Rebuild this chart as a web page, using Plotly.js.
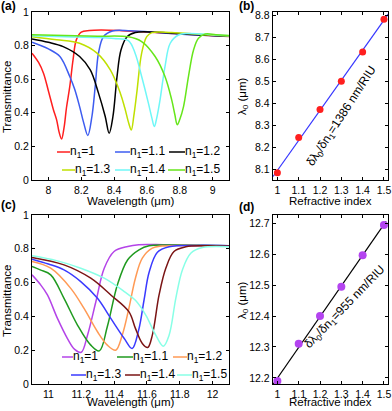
<!DOCTYPE html>
<html>
<head>
<meta charset="utf-8">
<script src="https://cdn.plot.ly/plotly-3.0.1.min.js"></script>
<style>html,body{margin:0;padding:0;background:#fff;}#chart{width:392px;height:411px;}</style>
</head>
<body>
<div id="chart"></div>
<script>
// ---------- data: panel (a) transmittance spectra ----------
const legendNames = ['n<sub>1</sub>=1','n<sub>1</sub>=1.1','n<sub>1</sub>=1.2','n<sub>1</sub>=1.3','n<sub>1</sub>=1.4','n<sub>1</sub>=1.5'];

const a1x = [7.90,7.94,7.97,8.00,8.03,8.05,8.065,8.08,8.095,8.11,8.13,8.15,8.17,8.20,8.25,8.32,8.45,8.60,8.80,9.00,9.10];
const a1y = [0.755,0.70,0.636,0.53,0.42,0.358,0.285,0.244,0.31,0.43,0.556,0.715,0.834,0.88,0.89,0.893,0.889,0.881,0.869,0.859,0.854];
const a2x = [7.90,8.00,8.07,8.13,8.16,8.19,8.215,8.24,8.265,8.285,8.305,8.335,8.39,8.50,8.70,8.90,9.10];
const a2y = [0.82,0.78,0.735,0.616,0.54,0.437,0.34,0.265,0.378,0.556,0.755,0.853,0.887,0.888,0.875,0.863,0.855];
const a3x = [7.90,8.00,8.09,8.19,8.255,8.305,8.346,8.37,8.393,8.418,8.442,8.479,8.53,8.65,8.85,9.10];
const a3y = [0.84,0.82,0.794,0.735,0.655,0.517,0.378,0.279,0.378,0.616,0.774,0.853,0.878,0.88,0.868,0.855];
const a4x = [7.90,8.05,8.19,8.296,8.377,8.438,8.465,8.489,8.505,8.52,8.538,8.568,8.599,8.63,8.75,8.95,9.10];
const a4y = [0.853,0.835,0.814,0.755,0.655,0.517,0.43,0.339,0.297,0.38,0.517,0.755,0.853,0.877,0.878,0.865,0.857];
const a5x = [7.90,8.10,8.30,8.40,8.487,8.528,8.568,8.609,8.63,8.645,8.66,8.68,8.71,8.742,8.792,8.85,9.00,9.10];
const a5y = [0.858,0.853,0.848,0.842,0.83,0.755,0.616,0.458,0.37,0.318,0.37,0.477,0.675,0.814,0.863,0.872,0.865,0.858];
const a6x = [7.90,8.10,8.30,8.487,8.568,8.65,8.71,8.751,8.77,8.785,8.80,8.823,8.853,8.884,8.914,8.955,9.02,9.10];
const a6y = [0.865,0.86,0.856,0.852,0.824,0.735,0.616,0.477,0.39,0.329,0.36,0.437,0.616,0.774,0.844,0.869,0.865,0.86];

// ---------- data: panel (b) resonance vs index ----------
const nIndex = [1,1.1,1.2,1.3,1.4,1.5];
const lambdaB = [8.083,8.244,8.371,8.50,8.633,8.782];
const fitRangeB = [0.98,1.52];
const sensB = '1386 nm/RIU';

// ---------- data: panel (c) transmittance spectra ----------
const c1x = [10.90,10.95,10.994,11.055,11.116,11.16,11.20,11.238,11.289,11.34,11.40,11.483,11.55,11.70,11.90,12.10];
const c1y = [0.646,0.59,0.527,0.388,0.269,0.205,0.188,0.289,0.487,0.685,0.784,0.814,0.824,0.824,0.82,0.818];
const c2x = [10.90,10.95,11.014,11.095,11.177,11.258,11.31,11.359,11.42,11.483,11.552,11.613,11.75,12.10];
const c2y = [0.695,0.675,0.646,0.507,0.349,0.23,0.196,0.34,0.586,0.735,0.794,0.818,0.822,0.818];
const c3x = [10.90,11.014,11.136,11.217,11.299,11.359,11.41,11.45,11.49,11.53,11.572,11.633,11.694,11.85,12.10];
const c3y = [0.725,0.685,0.566,0.447,0.309,0.23,0.20,0.29,0.447,0.626,0.745,0.804,0.816,0.82,0.818];
const c4x = [10.90,11.00,11.095,11.197,11.299,11.38,11.462,11.51,11.55,11.583,11.613,11.664,11.735,11.90,12.10];
const c4y = [0.739,0.71,0.675,0.606,0.507,0.388,0.269,0.21,0.32,0.50,0.66,0.78,0.812,0.82,0.818];
const c5x = [10.90,11.095,11.258,11.38,11.49,11.53,11.572,11.605,11.633,11.674,11.715,11.765,11.837,11.95,12.10];
const c5y = [0.749,0.705,0.626,0.527,0.428,0.329,0.24,0.216,0.289,0.527,0.685,0.784,0.812,0.818,0.817];
const c6x = [10.90,11.05,11.197,11.34,11.462,11.53,11.593,11.654,11.70,11.735,11.776,11.816,11.867,11.938,12.10];
const c6y = [0.759,0.73,0.685,0.626,0.547,0.495,0.408,0.289,0.224,0.289,0.507,0.675,0.774,0.808,0.812];

// ---------- data: panel (d) resonance vs index ----------
const lambdaD = [12.19,12.31,12.40,12.495,12.597,12.695];
const fitRangeD = [0.98,1.51];
const sensD = '955 nm/RIU';

// ---------- styles ----------
const colorsA = ['#ff1f1f','#3d5cf0','#000000','#bfe000','#6ff7f7','#66e61a'];
const colorsC = ['#b444e8','#1f9a1f','#ff9a55','#3a3aff','#7a1414','#88ffe6'];
const FONT = 'Liberation Sans, Arial, sans-serif';

function linfit(xs, ys) {
  const n = xs.length;
  const mx = xs.reduce((s,v)=>s+v,0)/n, my = ys.reduce((s,v)=>s+v,0)/n;
  let sxy=0, sxx=0;
  for (let i=0;i<n;i++){ sxy+=(xs[i]-mx)*(ys[i]-my); sxx+=(xs[i]-mx)*(xs[i]-mx); }
  const b = sxy/sxx, a = my - b*mx;
  return x => a + b*x;
}

const seriesA = [[a1x,a1y],[a2x,a2y],[a3x,a3y],[a4x,a4y],[a5x,a5y],[a6x,a6y]];
const seriesC = [[c1x,c1y],[c2x,c2y],[c3x,c3y],[c4x,c4y],[c5x,c5y],[c6x,c6y]];

const traces = [];
seriesA.forEach((s,i)=>traces.push({x:s[0],y:s[1],type:'scatter',mode:'lines',xaxis:'x',yaxis:'y',
  line:{color:colorsA[i],width:1.5,shape:'spline',smoothing:1},name:legendNames[i],showlegend:false,hoverinfo:'skip'}));
seriesC.forEach((s,i)=>traces.push({x:s[0],y:s[1],type:'scatter',mode:'lines',xaxis:'x3',yaxis:'y3',
  line:{color:colorsC[i],width:1.5,shape:'spline',smoothing:1},name:legendNames[i],showlegend:false,hoverinfo:'skip'}));

const fB = linfit(nIndex, lambdaB);
traces.push({x:fitRangeB,y:fitRangeB.map(fB),type:'scatter',mode:'lines',xaxis:'x2',yaxis:'y2',
  line:{color:'#3535ff',width:1.2},showlegend:false,hoverinfo:'skip'});
traces.push({x:nIndex,y:lambdaB,type:'scatter',mode:'markers',xaxis:'x2',yaxis:'y2',
  marker:{color:'#ff1f1f',size:7},showlegend:false,hoverinfo:'skip'});
const fD = linfit(nIndex, lambdaD);
traces.push({x:fitRangeD,y:fitRangeD.map(fD),type:'scatter',mode:'lines',xaxis:'x4',yaxis:'y4',
  line:{color:'#000000',width:1.2},showlegend:false,hoverinfo:'skip'});
traces.push({x:nIndex,y:lambdaD,type:'scatter',mode:'markers',xaxis:'x4',yaxis:'y4',
  marker:{color:'#b444f0',size:8},showlegend:false,hoverinfo:'skip'});

// ---------- layout helpers ----------
const W=392, H=411;
const px = x => x/W, py = y => 1 - y/H;
const tickFont = {family:FONT,size:10.5,color:'#000'};
function axis(extra){
  return Object.assign({showline:true,linecolor:'#000',linewidth:1,mirror:'allticks',ticks:'inside',ticklen:3,
    tickcolor:'#000',tickwidth:1,showgrid:false,zeroline:false,tickfont:tickFont,fixedrange:true}, extra);
}
const titleFont = {family:FONT,size:11.5,color:'#000'};

const shapes = [], annotations = [];
function addLegend(colors, items, rowsY){
  items.forEach((it,i)=>{
    const y = rowsY[Math.floor(i/3)];
    shapes.push({type:'line',xref:'paper',yref:'paper',x0:px(it[0]),x1:px(it[1]),y0:py(y),y1:py(y),
      line:{color:colors[i],width:1.5}});
    annotations.push({xref:'paper',yref:'paper',x:px(it[2]),y:py(y),xanchor:'left',yanchor:'middle',
      text:legendNames[i],showarrow:false,font:{family:FONT,size:12,color:'#000'},borderpad:0});
  });
}
addLegend(colorsA, [[57,70,69],[115,130,129],[169,185,184],[62,75,74],[115,130,129],[168,185,184]], [152,170]);
addLegend(colorsC, [[62,73,72],[117,133,132],[173,187,186],[71,86,85],[125,140,139],[177,192,191]], [357,375]);

[['(a)',0,6],['(b)',238,6],['(c)',0,205],['(d)',238,207]].forEach(p=>{
  annotations.push({xref:'paper',yref:'paper',x:px(p[1]),y:py(p[2]),xanchor:'left',yanchor:'middle',
    text:'<b>'+p[0]+'</b>',showarrow:false,font:{family:FONT,size:12,color:'#000'},borderpad:0});
});

// axis titles (text, centre x px, centre y px, angle)
const axisTitles = [
  ['Wavelength (μm)',131,201,0], ['Wavelength (μm)',131,402,0],
  ['Refractive index',330,201,0], ['Refractive index',330,402,0],
  ['Transmittance',7,97,-90], ['Transmittance',7,301,-90],
  ['λ<sub>0</sub> (μm)',243,97,-90], ['λ<sub>0</sub> (μm)',243,301,-90]
];
axisTitles.forEach(t=>annotations.push({xref:'paper',yref:'paper',x:px(t[1]),y:py(t[2]),xanchor:'center',yanchor:'middle',
  text:t[0],textangle:t[3],showarrow:false,font:titleFont,borderpad:0}));

annotations.push({xref:'x2',yref:'y2',x:1.305,y:8.34,text:'δλ<sub>0</sub>/δn<sub>1</sub>='+sensB,
  textangle:-57,showarrow:false,font:{family:FONT,size:12,color:'#000'},borderpad:0});
annotations.push({xref:'x4',yref:'y4',x:1.318,y:12.43,text:'δλ<sub>0</sub>/δn<sub>1</sub>='+sensD,
  textangle:-46,showarrow:false,font:{family:FONT,size:12,color:'#000'},borderpad:0});

const layout = {
  width:W,height:H,margin:{l:0,r:0,t:0,b:0},paper_bgcolor:'#fff',plot_bgcolor:'#fff',showlegend:false,
  font:{family:FONT,color:'#000'},
  xaxis: axis({domain:[px(32),px(229)],range:[7.9,9.1],tick0:8,dtick:0.2,anchor:'y'}),
  yaxis: axis({domain:[py(180),py(12)],range:[0,1],tick0:0,dtick:0.2,anchor:'x'}),
  xaxis2: axis({domain:[px(272.7),px(388)],range:[0.978,1.519],tick0:1,dtick:0.1,anchor:'y2'}),
  yaxis2: axis({domain:[py(180),py(12)],range:[8.05,8.815],tick0:8.1,dtick:0.1,anchor:'x2'}),
  xaxis3: axis({domain:[px(32),px(229)],range:[10.9,12.1],tick0:11,dtick:0.2,anchor:'y3'}),
  yaxis3: axis({domain:[py(384),py(215)],range:[0,1],tick0:0,dtick:0.2,anchor:'x3'}),
  xaxis4: axis({domain:[px(272.7),px(388)],range:[0.978,1.519],tick0:1,dtick:0.1,anchor:'y4'}),
  yaxis4: axis({domain:[py(384),py(215)],range:[12.18,12.727],tick0:12.2,dtick:0.1,anchor:'x4'}),
  shapes:shapes, annotations:annotations
};

Plotly.newPlot('chart', traces, layout, {staticPlot:true,displayModeBar:false});
</script>
</body>
</html>
